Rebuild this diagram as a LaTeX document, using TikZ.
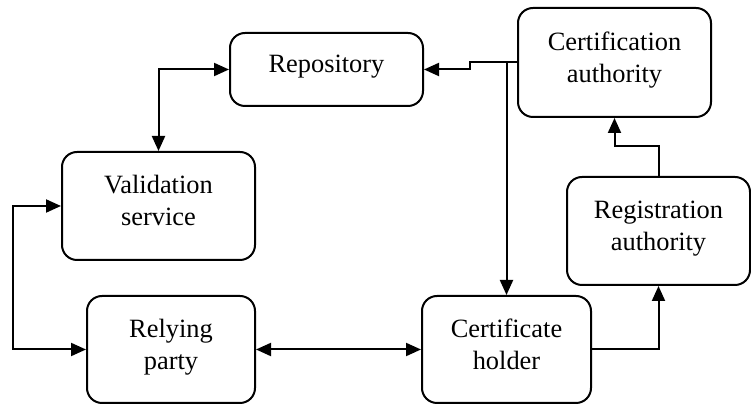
\documentclass[tikz,border=0pt]{standalone}
\usepackage{fontspec}
\setmainfont{Liberation Serif}
\usetikzlibrary{arrows.meta}

\begin{document}
\begin{tikzpicture}[
  x=0.5pt, y=-0.5pt,
  >={Triangle[length=7.5pt,width=6.5pt]},
  block/.style={rectangle,draw,line width=1pt,rounded corners=7.5pt,align=center,inner sep=0pt,
    font=\fontsize{13.2}{16}\selectfont,text depth=5.5pt},
  link/.style={line width=1pt},
]
\useasboundingbox (0,0) rectangle (751,405);

% Boxes
\node[block,minimum width=96.5pt,minimum height=36.5pt] (repo) at (326.5,69.5) {Repository};
\node[block,minimum width=96.5pt,minimum height=54.5pt] (ca) at (614.5,62.5) {Certification\\authority};
\node[block,minimum width=96.5pt,minimum height=54pt] (valid) at (158.5,206) {Validation\\service};
\node[block,minimum width=91.5pt,minimum height=54pt] (reg) at (658.5,231) {Registration\\authority};
\node[block,minimum width=84pt,minimum height=53.5pt] (rely) at (171,349.5) {Relying\\party};
\node[block,minimum width=84.5pt,minimum height=53.5pt] (holder) at (506.5,349.5) {Certificate\\holder};

% Connections
\draw[<->,link] (valid.north) |- (repo.west);
\draw[<->,link] (valid.west) -- ++(-48,0) |- (rely.west);
\draw[<->,link] (rely.east) -- (holder.west);
\draw[->,link] (ca.west) -- ++(-47,0) |- (repo.east);
\draw[->,link] (ca.west -| holder.north) -- (holder.north);
\draw[->,link] (holder.east) -| (reg.south);
\draw[->,link] (reg.north) -- ++(0,-30) -| (ca.south);

\end{tikzpicture}
\end{document}
